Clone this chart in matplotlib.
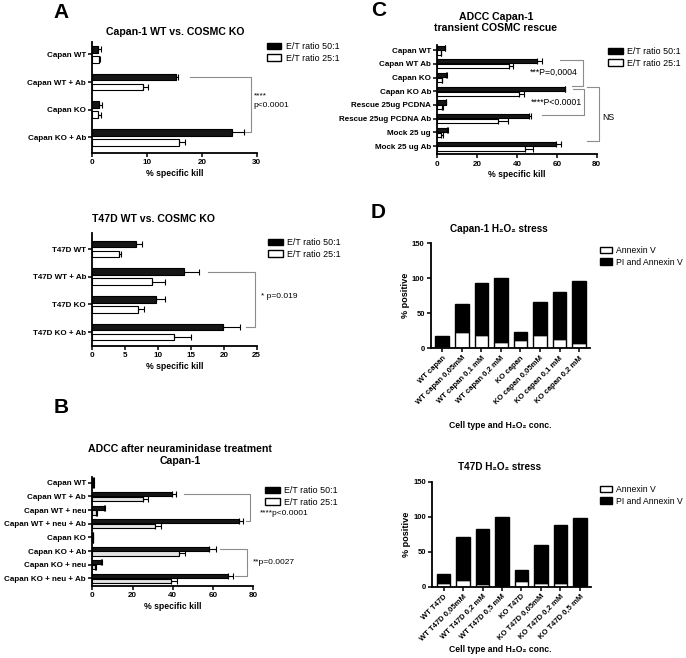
import matplotlib
matplotlib.use('Agg')
import matplotlib.pyplot as plt
from matplotlib.patches import Patch
import numpy as np

plt.rcParams['font.family'] = ['Liberation Sans', 'DejaVu Sans']

# ---- data ----
# A, top: Capan-1 WT vs. COSMC KO
a1_labels = ['Capan WT', 'Capan WT + Ab', 'Capan KO', 'Capan KO + Ab']
a1_50 = [1.1, 15.3, 1.3, 25.5]
a1_50_err = [0.4, 0.4, 0.4, 2.1]
a1_25 = [1.3, 9.3, 1.1, 15.8]
a1_25_err = [0.1, 0.8, 0.4, 1.2]

# A, bottom: T47D WT vs. COSMC KO
a2_labels = ['T47D WT', 'T47D WT + Ab', 'T47D KO', 'T47D KO + Ab']
a2_50 = [6.6, 13.9, 9.7, 19.8]
a2_50_err = [0.9, 2.4, 1.4, 2.7]
a2_25 = [4.1, 9.1, 6.9, 12.4]
a2_25_err = [0.3, 1.9, 0.9, 2.6]

# B: ADCC after neuraminidase treatment
b_labels = ['Capan WT', 'Capan WT + Ab', 'Capan WT + neu', 'Capan WT + neu + Ab',
            'Capan KO', 'Capan KO + Ab', 'Capan KO + neu', 'Capan KO + neu + Ab']
b_50 = [0.5, 39.7, 6.0, 72.8, 0.3, 57.9, 4.1, 67.5]
b_50_err = [0.3, 1.7, 0.5, 1.9, 0.2, 3.4, 0.5, 2.2]
b_25 = [0.5, 25.3, 1.8, 31.3, 0.3, 42.9, 1.5, 38.9]
b_25_err = [0.2, 2.2, 0.4, 2.8, 0.2, 3.0, 0.4, 3.3]

# C: ADCC Capan-1 transient COSMC rescue
c_labels = ['Capan WT', 'Capan WT Ab', 'Capan KO', 'Capan KO Ab',
            'Rescue 25ug PCDNA', 'Rescue 25ug PCDNA Ab', 'Mock 25 ug', 'Mock 25 ug Ab']
c_50 = [3.8, 49.9, 4.4, 63.9, 4.2, 45.9, 4.7, 59.4]
c_50_err = [0.3, 2.8, 0.6, 0.2, 0.3, 1.0, 0.8, 2.7]
c_25 = [1.8, 36.0, 2.2, 41.2, 2.5, 30.6, 1.7, 44.0]
c_25_err = [0.2, 1.8, 0.2, 2.3, 0.5, 5.0, 1.0, 4.2]

# D: H2O2 stress (Annexin V only / PI and Annexin V)
d1_labels = ['WT capan', 'WT capan 0,05mM', 'WT capan 0,1 mM', 'WT capan 0,2 mM',
             'KO capan', 'KO capan 0,05mM', 'KO capan 0,1 mM', 'KO capan 0,2 mM']
d1_annexin = [3.8, 23.3, 19.5, 8.6, 11.9, 19.5, 13.8, 7.6]
d1_pi = [13.8, 40.0, 74.3, 91.4, 11.4, 46.7, 67.2, 88.6]

d2_labels = ['WT T47D', 'WT T47D 0,05mM', 'WT T47D 0,2 mM', 'WT T47D 0,5 mM',
             'KO T47D', 'KO T47D 0,05mM', 'KO T47D 0,2 mM', 'KO T47D 0,5 mM']
d2_annexin = [5.7, 9.5, 3.8, 0.8, 8.1, 5.7, 5.7, 0.8]
d2_pi = [12.4, 61.9, 79.1, 98.2, 15.7, 54.3, 82.4, 97.3]

W, H = 686, 658
fig = plt.figure(figsize=(W / 100, H / 100), dpi=100)

TICK_FS = 5.8
LAB_FS = 6.2
LEG_FS = 6.4
NOTE_FS = 6.0
BRACKET = '#8c8c8c'


def px_axes(x0, y0, x1, y1):
    return fig.add_axes([x0 / W, 1 - y1 / H, (x1 - x0) / W, (y1 - y0) / H])


def ftext(x, y, s, **kw):
    fig.text(x / W, 1 - y / H, s, **kw)


def style(ax, fs=TICK_FS):
    for s in ['top', 'right']:
        ax.spines[s].set_visible(False)
    for s in ['left', 'bottom']:
        ax.spines[s].set_linewidth(1.3)
    ax.tick_params(width=1.1, length=3, pad=1.5, labelsize=fs)
    for t in ax.get_xticklabels() + ax.get_yticklabels():
        t.set_fontweight('bold')


def legend_at(ax, labels, colors, x, y, fs=LEG_FS, hl=1.67, pad=0.5):
    handles = [Patch(facecolor=c, edgecolor='black', linewidth=1) for c in colors]
    ax.legend(handles, labels, loc='upper left', bbox_to_anchor=(x / W, 1 - y / H),
              bbox_transform=fig.transFigure, frameon=False, fontsize=fs,
              handlelength=hl, handleheight=0.75, handletextpad=pad,
              labelspacing=0.3, borderpad=0, borderaxespad=0)


def hbar_panel(ax, labels, v50, e50, v25, e25, xmax, xstep, ylim,
               off=0.18, h=0.24, white='white'):
    y = np.arange(len(labels))
    zeros = np.zeros(len(labels))
    ax.barh(y - off, v50, height=h, color='#161616', edgecolor='black', linewidth=0.8)
    ax.barh(y + off, v25, height=h, color=white, edgecolor='black', linewidth=0.8)
    ax.errorbar(v50, y - off, xerr=[zeros, e50], fmt='none', ecolor='black',
                elinewidth=0.8, capsize=2, capthick=0.8)
    ax.errorbar(v25, y + off, xerr=[zeros, e25], fmt='none', ecolor='black',
                elinewidth=0.8, capsize=2, capthick=0.8)
    ax.set_yticks(y)
    ax.set_yticklabels(labels)
    ax.set_xlim(0, xmax)
    ax.set_xticks(np.arange(0, xmax + 1, xstep))
    ax.set_ylim(*ylim)
    ax.set_xlabel('% specific kill', fontsize=LAB_FS, fontweight='bold', labelpad=2)
    style(ax)


def bracket(ax, y_top, y_bot, x_top, x_right, x_bot):
    ax.plot([x_top, x_right, x_right, x_bot], [y_top, y_top, y_bot, y_bot],
            color=BRACKET, lw=0.8, clip_on=False)


def stacked_panel(ax, labels, annexin, pi):
    x = np.arange(len(labels))
    ax.bar(x, annexin, width=0.7, color='white', edgecolor='black', linewidth=1)
    ax.bar(x, pi, width=0.7, bottom=annexin, color='black', edgecolor='black', linewidth=1)
    ax.set_xlim(-0.58, 7.56)
    ax.set_ylim(0, 150)
    ax.set_yticks([0, 50, 100, 150])
    ax.set_xticks(x)
    ax.set_xticklabels(labels, rotation=45, ha='right', rotation_mode='anchor')
    style(ax, fs=5.5)
    ax.set_ylabel('% positive', fontsize=6.6, fontweight='bold', labelpad=1.5)


# ---- A top ----
ax = px_axes(92.3, 42, 256.7, 153)
hbar_panel(ax, a1_labels, a1_50, a1_50_err, a1_25, a1_25_err, 30, 10, (3.57, -0.45))
legend_at(ax, ['E/T ratio 50:1', 'E/T ratio 25:1'], ['black', 'white'], 266.5, 42)
bracket(ax, 1 - 0.18, 3 - 0.18, 17.8, 28.9, 27.9)
ax.text(29.4, 1.68, '****\np<0.0001', fontsize=NOTE_FS, va='center', ha='left',
        linespacing=1.6, clip_on=False)
ftext(175, 32, 'Capan-1 WT vs. COSMC KO', fontsize=7.6, fontweight='bold',
      ha='center', va='center')
ftext(61, 13, 'A', fontsize=15, fontweight='bold', ha='center', va='center')

# ---- A bottom ----
ax = px_axes(92.3, 233.3, 256.7, 345.7)
hbar_panel(ax, a2_labels, a2_50, a2_50_err, a2_25, a2_25_err, 25, 5, (3.49, -0.57))
legend_at(ax, ['E/T ratio 50:1', 'E/T ratio 25:1'], ['black', 'white'], 268, 238)
bracket(ax, 1 - 0.18, 3 - 0.18, 17.6, 24.8, 23.4)
ax.text(25.6, 1.72, '* p=0.019', fontsize=NOTE_FS, va='center', ha='left', clip_on=False)
ftext(154, 219, 'T47D WT vs. COSMC KO', fontsize=7.6, fontweight='bold',
      ha='center', va='center')

# ---- B ----
ax = px_axes(92.3, 477.3, 253.3, 586)
hbar_panel(ax, b_labels, b_50, b_50_err, b_25, b_25_err, 80, 20, (7.56, -0.4),
           h=0.3, white='#e4e4e4')
legend_at(ax, ['E/T ratio 50:1', 'E/T ratio 25:1'], ['black', 'white'], 265, 486)
bracket(ax, 1 - 0.18, 3 - 0.18, 45.6, 78.5, 76.3)
bracket(ax, 5 - 0.18, 7 - 0.18, 63.5, 76.8, 71.0)
ax.text(83.4, 2.22, '****p<0.0001', fontsize=NOTE_FS, va='center', ha='left', clip_on=False)
ax.text(80.0, 5.86, '**p=0.0027', fontsize=NOTE_FS, va='center', ha='left', clip_on=False)
ftext(180, 455, 'ADCC after neuraminidase treatment\nCapan-1', fontsize=7.6,
      fontweight='bold', ha='center', va='center', linespacing=1.15)
ftext(61, 407.5, 'B', fontsize=15, fontweight='bold', ha='center', va='center')

# ---- C ----
ax = px_axes(437.3, 45, 596.7, 154.3)
hbar_panel(ax, c_labels, c_50, c_50_err, c_25, c_25_err, 80, 20, (7.6, -0.37), h=0.3)
legend_at(ax, ['E/T ratio 50:1', 'E/T ratio 25:1'], ['black', 'white'], 608, 47)
bracket(ax, 0.73, 2.6, 61.6, 73.1, 67.5)
bracket(ax, 2.87, 4.74, 68.3, 73.7, 52.5)
bracket(ax, 2.68, 6.62, 75.1, 81.4, 75.1)
ax.text(58.5, 1.63, '***P=0,0004', fontsize=NOTE_FS + 0.3, va='center', ha='center', clip_on=False)
ax.text(60.0, 3.81, '****P<0.0001', fontsize=NOTE_FS + 0.3, va='center', ha='center', clip_on=False)
ax.text(82.6, 4.91, 'NS', fontsize=NOTE_FS + 0.3, va='center', ha='left', clip_on=False)
ftext(496, 22.5, 'ADCC Capan-1\ntransient COSMC rescue', fontsize=7.6,
      fontweight='bold', ha='center', va='center', linespacing=1.15)
ftext(379, 11, 'C', fontsize=15, fontweight='bold', ha='center', va='center')

# ---- D top ----
ax = px_axes(431, 243.3, 590, 348.3)
stacked_panel(ax, d1_labels, d1_annexin, d1_pi)
legend_at(ax, ['Annexin V', 'PI and Annexin V'], ['white', 'black'], 600, 246,
          fs=6.2, hl=1.36, pad=0.55)
ftext(499, 228.5, 'Capan-1 H\u2082O\u2082 stress', fontsize=7.2, fontweight='bold',
      ha='center', va='center')
ftext(500, 425, 'Cell type and H\u2082O\u2082 conc.', fontsize=LAB_FS, fontweight='bold',
      ha='center', va='center')
ftext(378, 212.5, 'D', fontsize=15, fontweight='bold', ha='center', va='center')

# ---- D bottom ----
ax = px_axes(432.3, 481.7, 590.7, 586.7)
stacked_panel(ax, d2_labels, d2_annexin, d2_pi)
legend_at(ax, ['Annexin V', 'PI and Annexin V'], ['white', 'black'], 600, 485,
          fs=6.2, hl=1.36, pad=0.55)
ftext(500, 466.7, 'T47D H\u2082O\u2082 stress', fontsize=7.2, fontweight='bold',
      ha='center', va='center')
ftext(500, 650, 'Cell type and H\u2082O\u2082 conc.', fontsize=LAB_FS, fontweight='bold',
      ha='center', va='center')

fig.savefig('out.png', dpi=100)
